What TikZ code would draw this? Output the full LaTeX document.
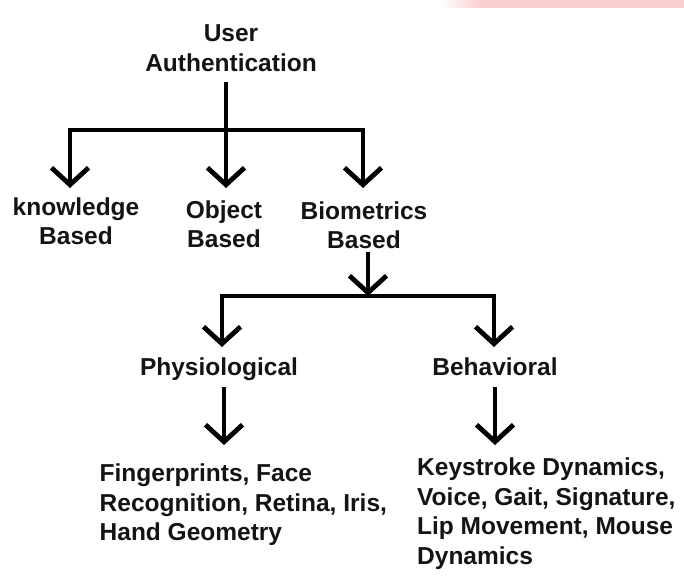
\documentclass[tikz,border=0pt]{standalone}
\usepackage{fontspec}
\setmainfont{Liberation Sans}
\usetikzlibrary{arrows.meta}
\definecolor{txt}{HTML}{141414}
\definecolor{strip}{RGB}{252,208,211}
\tikzset{
  lbl/.style={inner sep=0pt, text=txt, font=\bfseries\fontsize{24.5}{29.5}\selectfont, align=center},
  lblleft/.style={lbl, align=left, anchor=north west},
  wire/.style={line width=4.3pt, draw=black, line cap=butt},
  arr/.style={wire, -{Straight Barb[length=17pt,width=37pt,line width=4.8pt]}}
}
\begin{document}
\begin{tikzpicture}[x=1pt,y=-1pt]
\useasboundingbox (0,0) rectangle (684,578);
\fill[white] (0,0) rectangle (684,578);
% faint strip at top right
\shade[left color=white, right color=strip] (440,0) rectangle (480,8);
\fill[strip] (480,0) rectangle (684,8);

% nodes
\node[lbl] (ua) at (231,48) {User\\Authentication};
\node[lbl] (kb) at (76,221) {knowledge\\Based};
\node[lbl] (ob) at (224,224) {Object\\Based};
\node[lbl] (bb) at (364,225) {Biometrics\\Based};
\node[lbl] (ph) at (219,369) {Physiological};
\node[lbl] (be) at (495,367) {Behavioral};
\node[lblleft] (phx) at (99.5,464) {Fingerprints, Face\\Recognition, Retina, Iris,\\Hand Geometry};
\node[lblleft] (bex) at (417,458) {Keystroke Dynamics,\\Voice, Gait, Signature,\\Lip Movement, Mouse\\Dynamics};

% junctions and tips
\coordinate (s0) at (226,82);
\coordinate (j0) at (226,130);
\coordinate (jl) at (70,130);
\coordinate (jr) at (363,130);
\coordinate (tk) at (70,188);
\coordinate (to) at (226,188);
\coordinate (tb) at (363,188);
\coordinate (s1) at (368,252);
\coordinate (j1) at (368,296);
\coordinate (kl) at (222,296);
\coordinate (kr) at (494,296);
\coordinate (tp) at (222,347);
\coordinate (tq) at (494,347);
\coordinate (s2) at (224,387);
\coordinate (t2) at (224,445);
\coordinate (s3) at (495,387);
\coordinate (t3) at (495,445);

% connectors
\draw[wire] (s0) -- (j0);
\draw[wire] ([xshift=-2.15pt]jl) -- ([xshift=2.15pt]jr);
\draw[arr] ([yshift=-2.15pt]jl) -- (tk);
\draw[arr] (j0) -- (to);
\draw[arr] ([yshift=-2.15pt]jr) -- (tb);

\draw[arr] (s1) -- (j1);
\draw[wire] ([xshift=-2.15pt]kl) -- ([xshift=2.15pt]kr);
\draw[arr] ([yshift=-2.15pt]kl) -- (tp);
\draw[arr] ([yshift=-2.15pt]kr) -- (tq);

\draw[arr] (s2) -- (t2);
\draw[arr] (s3) -- (t3);
\end{tikzpicture}
\end{document}
